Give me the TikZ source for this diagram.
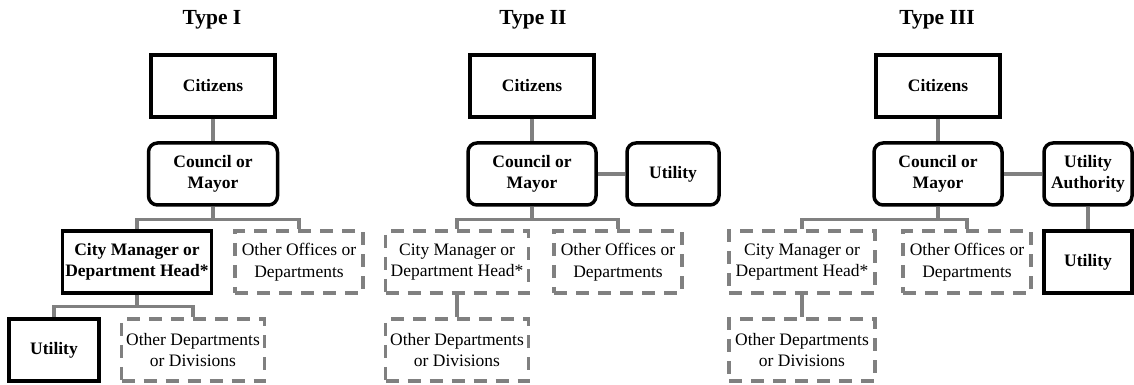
\documentclass[tikz,border=0pt]{standalone}
\usepackage{fontspec}
\setmainfont{Liberation Serif}
\usepackage{xcolor}
\usepackage{tikz}
\usetikzlibrary{shapes.geometric, arrows}
\definecolor{linkgray}{RGB}{128,128,128}
\newcommand{\boxfont}{\fontsize{17.5}{21.5}\selectfont}
\tikzstyle{box} = [rectangle, minimum height=62pt, inner sep=1pt, align=center, draw=black, line width=3.5pt, font=\boxfont\bfseries]
\tikzstyle{roundbox} = [box, rounded corners=9pt]
\tikzstyle{dashbox} = [rectangle, minimum height=62pt, inner sep=1pt, align=center, draw=linkgray, line width=3.5pt, dash pattern=on 13pt off 9pt, font=\boxfont]
\tikzstyle{link} = [draw=linkgray, line width=3.2pt]
\tikzstyle{heading} = [font=\fontsize{21.5}{24}\selectfont\bfseries]

\begin{document}
\begin{tikzpicture}[x=1pt, y=1pt, node distance=88pt]
		\useasboundingbox (0,0) rectangle (1134,385);

		% Type I
		\node[heading] (t1) at (212,365) {Type I};
		\node[box, minimum width=124pt] (t1cit) at (213,299) {Citizens};
		\node[roundbox, minimum width=129pt, below of = t1cit] (t1cou) {Council or\\Mayor};
		\node[box, minimum width=149pt, below of = t1cou, xshift=-76pt] (t1cm) {City Manager or\\Department Head*};
		\node[dashbox, minimum width=128pt, below of = t1cou, xshift=86pt] (t1oth) {Other Offices or\\Departments};
		\node[box, minimum width=90pt, below of = t1cm, xshift=-83pt] (t1util) {Utility};
		\node[dashbox, minimum width=143pt, below of = t1cm, xshift=56pt] (t1div) {Other Departments\\or Divisions};
		\draw[link] (t1cit) -- (t1cou);
		\draw[link] (t1cou.south) -- ++(0,-13) coordinate (t1fork) -| (t1cm.north);
		\draw[link] (t1fork) -| (t1oth.north);
		\draw[link] (t1cm.south) -- ++(0,-12) coordinate (t1split) -| (t1util.north);
		\draw[link] (t1split) -| (t1div.north);

		% Type II
		\node[heading] (t2) at (533,365) {Type II};
		\node[box, minimum width=124pt] (t2cit) at (532,299) {Citizens};
		\node[roundbox, minimum width=128pt, below of = t2cit] (t2cou) {Council or\\Mayor};
		\node[roundbox, minimum width=92pt, right of = t2cou, node distance=141pt] (t2util) {Utility};
		\node[dashbox, minimum width=143pt, below of = t2cou, xshift=-75pt] (t2cm) {City Manager or\\Department Head*};
		\node[dashbox, minimum width=128pt, below of = t2cou, xshift=86pt] (t2oth) {Other Offices or\\Departments};
		\node[dashbox, minimum width=143pt, below of = t2cm] (t2div) {Other Departments\\or Divisions};
		\draw[link] (t2cit) -- (t2cou);
		\draw[link] (t2cou) -- (t2util);
		\draw[link] (t2cou.south) -- ++(0,-13) coordinate (t2fork) -| (t2cm.north);
		\draw[link] (t2fork) -| (t2oth.north);
		\draw[link] (t2cm) -- (t2div);

		% Type III
		\node[heading] (t3) at (937,365) {Type III};
		\node[box, minimum width=124pt] (t3cit) at (938,299) {Citizens};
		\node[roundbox, minimum width=128pt, below of = t3cit] (t3cou) {Council or\\Mayor};
		\node[roundbox, minimum width=88pt, right of = t3cou, node distance=150pt] (t3auth) {Utility\\Authority};
		\node[box, minimum width=88pt, below of = t3auth] (t3util) {Utility};
		\node[dashbox, minimum width=146pt, below of = t3cou, xshift=-136pt] (t3cm) {City Manager or\\Department Head*};
		\node[dashbox, minimum width=128pt, below of = t3cou, xshift=29pt] (t3oth) {Other Offices or\\Departments};
		\node[dashbox, minimum width=146pt, below of = t3cm] (t3div) {Other Departments\\or Divisions};
		\draw[link] (t3cit) -- (t3cou);
		\draw[link] (t3cou) -- (t3auth);
		\draw[link] (t3auth) -- (t3util);
		\draw[link] (t3cou.south) -- ++(0,-13) coordinate (t3fork) -| (t3cm.north);
		\draw[link] (t3fork) -| (t3oth.north);
		\draw[link] (t3cm) -- (t3div);
	\end{tikzpicture}
\end{document}
